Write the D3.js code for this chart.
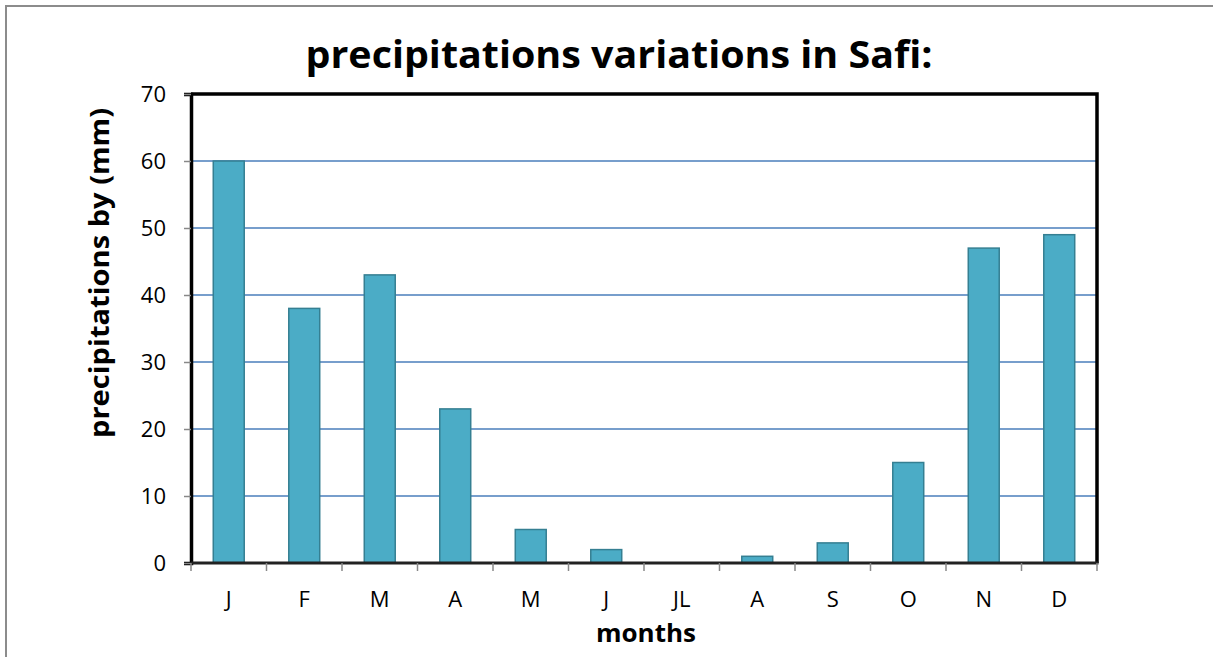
<!DOCTYPE html>
<html>
<head>
<meta charset="utf-8">
<script src="https://cdn.jsdelivr.net/npm/d3@7"></script>
<style>
  html, body { margin: 0; padding: 0; background: #fff; }
  svg { display: block; }
  text { font-family: "Open Sans", "Noto Sans", sans-serif; }
</style>
</head>
<body>
<svg id="chart" width="1213" height="657"></svg>
<script>
const months = ["J", "F", "M", "A", "M", "J", "JL", "A", "S", "O", "N", "D"];
const precipitation = [60, 38, 43, 23, 5, 2, 0, 1, 3, 15, 47, 49];
const yTicks = [0, 10, 20, 30, 40, 50, 60, 70];
const titleText = "precipitations variations in Safi:";
const yLabel = "precipitations by (mm)";
const xLabel = "months";

const svg = d3.select("#chart");
const W = 1213, H = 657;
const m = { left: 191, right: 1097, top: 94, bottom: 563 };

// outer border
svg.append("path")
  .attr("d", `M6,${H} L6,6 L${W},6`)
  .attr("fill", "none").attr("stroke", "#8c8c8c").attr("stroke-width", 2);

const x = d3.scaleBand().domain(d3.range(months.length)).range([m.left, m.right]).paddingInner(0.59).paddingOuter(0.295);
const xTickScale = d3.scaleLinear().domain([0, months.length]).range([m.left, m.right]);
const y = d3.scaleLinear().domain([0, 70]).range([m.bottom, m.top]);

// gridlines
svg.append("g").selectAll("line").data(yTicks.filter(d => d > 0 && d < 70)).join("line")
  .attr("x1", m.left).attr("x2", m.right)
  .attr("y1", d => y(d)).attr("y2", d => y(d))
  .attr("stroke", "#4a7ebb").attr("stroke-width", 1.5);

// bars
svg.append("g").selectAll("rect").data(precipitation).join("rect")
  .attr("x", (d, i) => x(i))
  .attr("width", x.bandwidth())
  .attr("y", d => y(d))
  .attr("height", d => y(0) - y(d))
  .attr("fill", "#4bacc6")
  .attr("stroke", "#357f92").attr("stroke-width", 1.5);

// frame (top & right black)
svg.append("path")
  .attr("d", `M${m.left},${m.top} L${m.right},${m.top} L${m.right},${m.bottom}`)
  .attr("fill", "none").attr("stroke", "#000").attr("stroke-width", 3.5)
  .attr("stroke-linejoin", "miter");

// left axis
const yAxis = d3.axisLeft(y).tickValues(yTicks).tickSize(7).tickPadding(18);
const gy = svg.append("g").attr("transform", `translate(${m.left},0)`).call(yAxis);
gy.select(".domain").attr("stroke", "#000").attr("stroke-width", 3.5);
gy.selectAll(".tick line").attr("stroke", "#888").attr("stroke-width", 1.5);
gy.selectAll(".tick text").attr("font-size", 22).attr("fill", "#000")
  .attr("font-family", "'Open Sans', sans-serif");

// bottom axis
svg.append("line").attr("x1", m.left).attr("x2", m.right + 1.5)
  .attr("y1", m.bottom).attr("y2", m.bottom)
  .attr("stroke", "#222").attr("stroke-width", 3);
svg.append("g").selectAll("line").data(d3.range(months.length + 1)).join("line")
  .attr("x1", d => xTickScale(d)).attr("x2", d => xTickScale(d))
  .attr("y1", m.bottom).attr("y2", m.bottom + 8)
  .attr("stroke", "#888").attr("stroke-width", 1.5);
svg.append("g").selectAll("text").data(months).join("text")
  .attr("x", (d, i) => x(i) + x.bandwidth() / 2)
  .attr("y", 607)
  .attr("text-anchor", "middle")
  .attr("font-size", 22)
  .text(d => d);

// title
svg.append("text")
  .attr("x", 619).attr("y", 68)
  .attr("text-anchor", "middle")
  .attr("font-size", 38).attr("font-weight", "bold")
  .attr("textLength", 627).attr("lengthAdjust", "spacingAndGlyphs")
  .text(titleText);

// y label
svg.append("text")
  .attr("transform", "translate(109,273) rotate(-90)")
  .attr("text-anchor", "middle")
  .attr("font-size", 26).attr("font-weight", "bold")
  .attr("textLength", 330).attr("lengthAdjust", "spacingAndGlyphs")
  .text(yLabel);

// x label
svg.append("text")
  .attr("x", 646).attr("y", 642)
  .attr("text-anchor", "middle")
  .attr("font-size", 25).attr("font-weight", "bold")
  .attr("textLength", 100).attr("lengthAdjust", "spacingAndGlyphs")
  .text(xLabel);
</script>
</body>
</html>
